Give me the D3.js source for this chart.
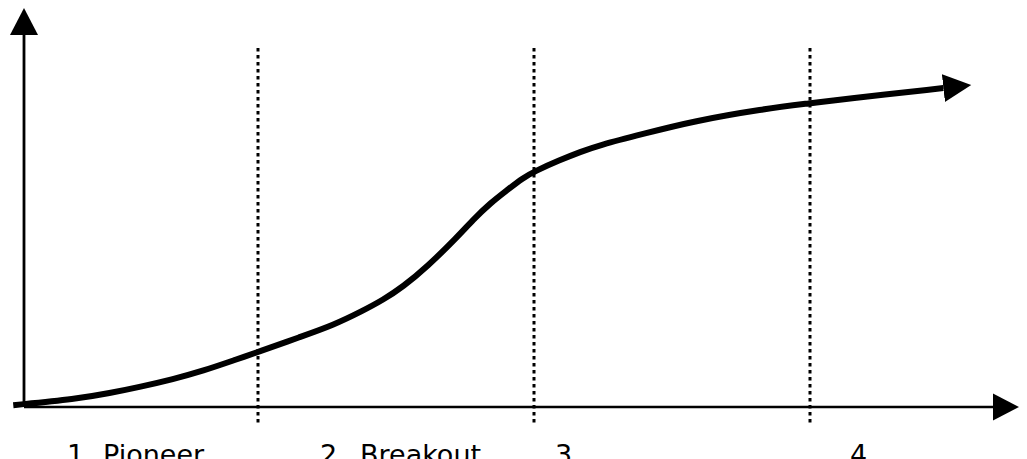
<!DOCTYPE html>
<html>
<head>
<meta charset="utf-8">
<script src="https://cdn.jsdelivr.net/npm/d3@7/dist/d3.min.js"></script>
<style>
  html, body { margin: 0; padding: 0; background: #fff; overflow: hidden; }
  svg { display: block; }
</style>
</head>
<body>
<svg id="chart" width="1027" height="459"></svg>
<script>
// ---- data ----
const curveX = [-1.1, 5.4, 8.8, 11.9, 15.3, 18.3, 21.8, 24.0, 28.3, 31.7, 34.7, 36.8, 38.8, 41.3, 44.4, 46.0, 47.8, 49.5, 51.1, 52.3, 54.9, 57.0, 59.0, 63.4, 68.6, 75.7, 80.7, 83.9, 94.2];
const curveY = [0.5, 2.2, 3.8, 5.5, 7.6, 9.8, 13.0, 15.0, 19.1, 22.3, 26.2, 29.2, 32.7, 38.2, 46.3, 51.0, 55.6, 59.1, 62.4, 64.2, 67.3, 69.5, 71.4, 74.4, 77.9, 81.2, 82.8, 83.9, 86.9];
const phaseBoundaries = [24.0, 52.25, 80.5];
const phaseNumbers = ["1.", "2.", "3.", "4."];
const phaseNames = ["Pioneer", "Breakout", "", ""];

// ---- layout ----
const W = 1027, H = 459;
const x = d3.scaleLinear().domain([0, 100]).range([24, 1000]);
const y = d3.scaleLinear().domain([0, 100]).range([407, 40]);
const labelNumX = [67, 320, 555, 850];
const labelNameX = [103, 360, null, null];

const svg = d3.select("#chart");
const defs = svg.append("defs");
defs.append("marker")
  .attr("id", "curveArrow")
  .attr("markerUnits", "userSpaceOnUse")
  .attr("markerWidth", 32).attr("markerHeight", 32)
  .attr("viewBox", "0 -16 32 32")
  .attr("refX", 0).attr("refY", 0)
  .attr("orient", "auto")
  .append("path").attr("d", "M0,-14L28,0L0,14Z").attr("fill", "#000");

// axes
const x0 = x(0), y0 = y(0);
svg.append("line").attr("x1", x0).attr("y1", y0).attr("x2", 995).attr("y2", y0)
  .attr("stroke", "#000").attr("stroke-width", 2.5);
svg.append("path").attr("d", `M993,${y0 - 13.5}L1019,${y0}L993,${y0 + 13.5}Z`).attr("fill", "#000");
svg.append("line").attr("x1", x0).attr("y1", y0).attr("x2", x0).attr("y2", 33)
  .attr("stroke", "#000").attr("stroke-width", 2.8);
svg.append("path").attr("d", `M${x0 - 14},35L${x0},8L${x0 + 14},35Z`).attr("fill", "#000");

// phase dividers
svg.selectAll("line.divider").data(phaseBoundaries).join("line")
  .attr("class", "divider")
  .attr("x1", d => Math.round(x(d))).attr("x2", d => Math.round(x(d)))
  .attr("y1", 48).attr("y2", 426)
  .attr("stroke", "#000").attr("stroke-width", 3)
  .attr("stroke-dasharray", "3.5,3.5");

// curve
const pts = curveX.map((v, i) => [v, curveY[i]]);
const line = d3.line().x(d => x(d[0])).y(d => y(d[1])).curve(d3.curveBasis);
svg.append("path").datum(pts)
  .attr("d", line)
  .attr("fill", "none").attr("stroke", "#000").attr("stroke-width", 6)
  .attr("stroke-linecap", "butt")
  .attr("marker-end", "url(#curveArrow)");

// labels
const labels = svg.append("g").attr("font-family", "'DejaVu Sans', Verdana, sans-serif")
  .attr("font-size", 27).attr("fill", "#000");
phaseNumbers.forEach((n, i) => {
  const t = labels.append("text").attr("y", 464);
  t.append("tspan").attr("x", labelNumX[i]).text(n);
  if (phaseNames[i]) t.append("tspan").attr("x", labelNameX[i]).text(phaseNames[i]);
});
</script>
</body>
</html>
